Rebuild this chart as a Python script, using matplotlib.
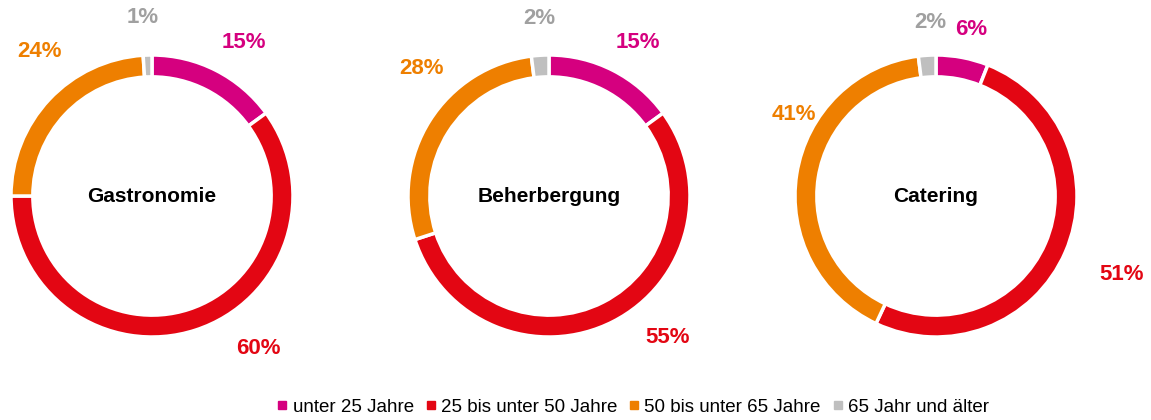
import matplotlib
matplotlib.use('Agg')
import matplotlib.pyplot as plt
from matplotlib.lines import Line2D
import numpy as np

# data
charts = ['Gastronomie', 'Beherbergung', 'Catering']
groups = ['unter 25 Jahre', '25 bis unter 50 Jahre', '50 bis unter 65 Jahre', '65 Jahr und älter']
gastronomie = [15, 60, 24, 1]
beherbergung = [15, 55, 28, 2]
catering = [6, 51, 41, 2]

colors = ['#D5007F', '#E30613', '#EE7F00', '#BFBFBF']
text_colors = ['#D5007F', '#E30613', '#EE7F00', '#A0A0A0']

# label placement (angle clockwise from top in degrees, radius relative to ring)
label_pos = [
    [(31, 1.27), (145, 1.32), (-38, 1.30), (-3, 1.27)],
    [(30, 1.26), (140, 1.31), (-45, 1.28), (-3, 1.26)],
    [(12, 1.21), (113, 1.43), (-60, 1.16), (-2, 1.23)],
]

plt.rcParams['font.family'] = ['Liberation Sans', 'DejaVu Sans']

fig = plt.figure(figsize=(11.51, 4.2), dpi=100)
W, H = 1151, 420
centers = [(152, 196), (549, 196), (936, 196)]
R = 141

for i, (name, vals) in enumerate(zip(charts, [gastronomie, beherbergung, catering])):
    cx, cy = centers[i]
    size = 2 * R * 1.6
    ax = fig.add_axes([(cx - size / 2) / W, (H - cy - size / 2) / H, size / W, size / H])
    ax.pie(vals, colors=colors, startangle=90, counterclock=False, radius=1,
           wedgeprops=dict(width=0.155, edgecolor='white', linewidth=2.5))
    ax.set_xlim(-1.6, 1.6)
    ax.set_ylim(-1.6, 1.6)
    ax.set_aspect('equal')
    ax.axis('off')
    ax.text(0, 0, name, ha='center', va='center', fontsize=15, fontweight='bold', color='black')
    for j, v in enumerate(vals):
        ang, r = label_pos[i][j]
        a = np.deg2rad(ang)
        ax.text(r * np.sin(a), r * np.cos(a), f'{v}%', ha='center', va='center',
                fontsize=16, fontweight='bold', color=text_colors[j])

handles = [Line2D([], [], marker='s', linestyle='', markersize=5.5, color=c) for c in colors]
fig.legend(handles, groups, loc='center', bbox_to_anchor=(0.549, 1 - 407 / H), ncol=4,
           frameon=False, fontsize=13.5, handletextpad=0.15, columnspacing=0.5, handlelength=0.8)

fig.savefig('out.png', dpi=100, facecolor='white')
